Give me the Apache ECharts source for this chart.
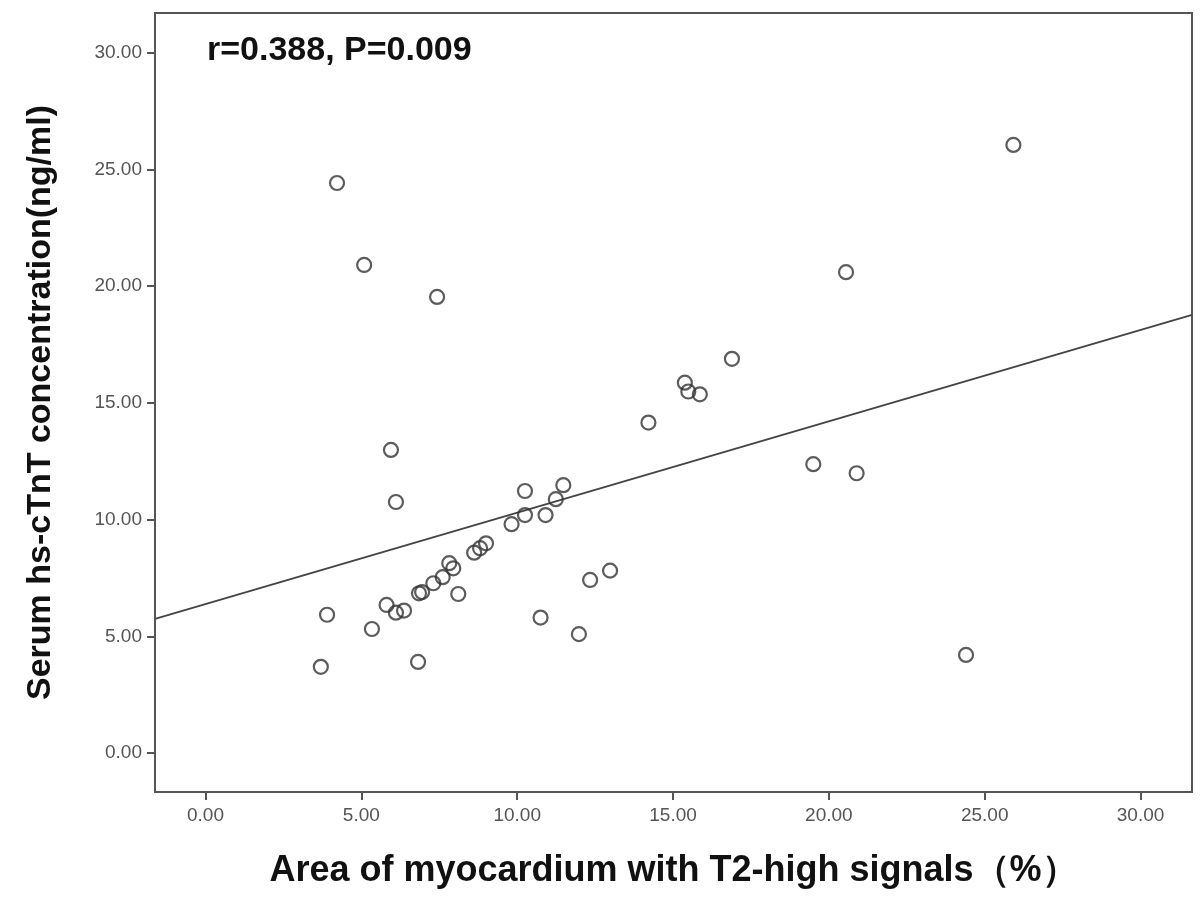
<!DOCTYPE html>
<html lang="en">
<head>
    <meta charset="UTF-8">
    <title>hs-cTnT vs T2 area</title>
    <style>
        html, body { margin: 0; padding: 0; background: #fff; }
    </style>
</head>
<body>
    <div id="chart" style="width: 1200px;height:903px;"></div>
</body>
</html>
<script src="https://cdn.jsdelivr.net/npm/echarts@6/dist/echarts.min.js"></script>
<script type="text/javascript">
    // values
    const areaT2 = [4.22, 5.09, 7.43, 5.95, 6.11, 3.90, 3.70, 5.34, 6.82, 5.81,
        6.11, 6.37, 6.85, 6.95, 7.31, 7.61, 7.82, 7.95, 8.11, 8.62,
        8.81, 9.00, 9.82, 10.25, 10.25, 10.91, 11.24, 11.48, 10.75, 11.98,
        12.34, 12.98, 14.21, 15.38, 15.49, 15.86, 16.89, 19.50, 20.89, 20.55,
        24.40, 25.92];
    const tnt = [24.42, 20.91, 19.54, 12.99, 10.76, 5.93, 3.70, 5.32, 3.91, 6.35,
        6.02, 6.11, 6.85, 6.90, 7.28, 7.54, 8.14, 7.92, 6.82, 8.59,
        8.78, 8.99, 9.81, 10.20, 11.23, 10.20, 10.88, 11.48, 5.81, 5.10,
        7.42, 7.82, 14.16, 15.87, 15.49, 15.37, 16.89, 12.38, 11.99, 20.60,
        4.21, 26.05];

    // fit line, ends at the plot frame
    const fitX = [-1.62, 31.65];
    const fitY = [5.75, 18.77];

    const tickVals = [0, 5, 10, 15, 20, 25, 30];
    const statText = 'r=0.388, P=0.009';

    const chart = echarts.init(document.getElementById('chart'));

    const axisCommon = {
        type: 'value',
        axisLine: { show: true, onZero: false, lineStyle: { color: '#555', width: 2 } },
        axisTick: { show: true, length: 8, customValues: tickVals, lineStyle: { color: '#555', width: 2 } },
        axisLabel: {
            customValues: tickVals,
            formatter: v => v.toFixed(2),
            color: '#555',
            fontFamily: 'Liberation Sans',
            fontSize: 19
        },
        splitLine: { show: false },
        nameLocation: 'middle',
        nameTextStyle: {
            fontFamily: 'Liberation Sans',
            fontWeight: 'bold',
            color: '#111'
        }
    };

    chart.setOption({
        animation: false,
        backgroundColor: '#fff',
        grid: {
            left: 155, top: 13, right: 8, bottom: 111,
            show: true, borderColor: '#555', borderWidth: 2
        },
        xAxis: _merge(axisCommon, {
            min: -1.62, max: 31.65,
            name: 'Area of myocardium with T2-high signals（%）',
            nameGap: 61,
            nameTextStyle: { fontSize: 36 },
            axisLabel: { margin: 14 }
        }),
        yAxis: _merge(axisCommon, {
            min: -1.66, max: 31.7,
            name: 'Serum hs-cTnT concentration(ng/ml)',
            nameGap: 97,
            nameTextStyle: { fontSize: 34 },
            axisLabel: { margin: 13 }
        }),
        graphic: [{
            type: 'text',
            left: 207, top: 34,
            style: {
                text: statText,
                font: 'bold 34px "Liberation Sans"',
                fill: '#111'
            }
        }],
        series: [
            {
                type: 'line',
                data: fitX.map((x, i) => [x, fitY[i]]),
                symbol: 'none',
                lineStyle: { color: '#444', width: 1.8 },
                z: 2
            },
            {
                type: 'scatter',
                data: areaT2.map((x, i) => [x, tnt[i]]),
                symbol: 'circle',
                symbolSize: 14,
                itemStyle: { color: 'rgba(255,255,255,0)', borderColor: '#333', borderWidth: 2.2 },
                z: 3
            }
        ]
    });

    function _merge(a, b) {
        const out = Object.assign({}, a, b);
        ['axisLine', 'axisTick', 'axisLabel', 'nameTextStyle'].forEach(k => {
            if (a[k] && b[k]) out[k] = Object.assign({}, a[k], b[k]);
        });
        return out;
    }
</script>
